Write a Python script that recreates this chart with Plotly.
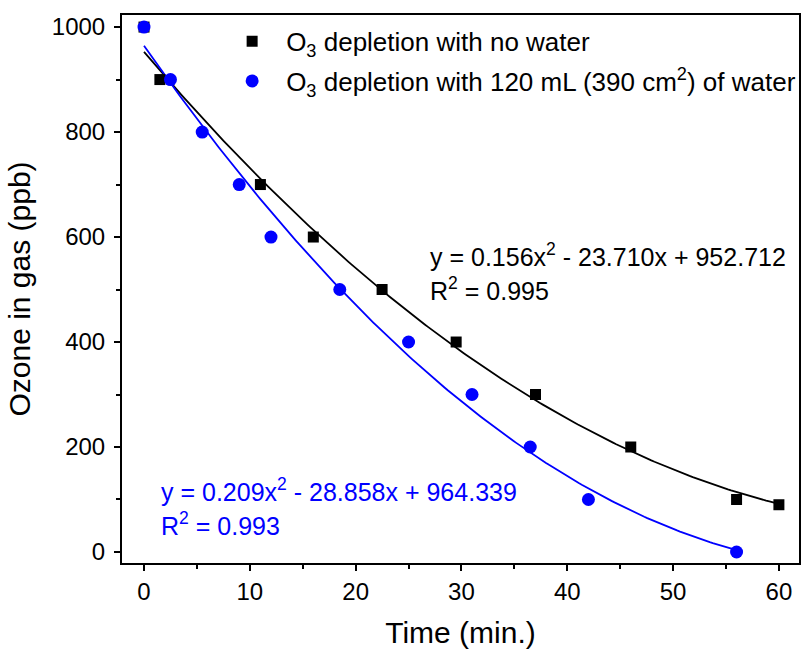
import numpy as np
import plotly.graph_objects as go

# Data: no water (black squares)
time_no_water = [0, 1.5, 11, 16, 22.5, 29.5, 37, 46, 56, 60]
ozone_no_water = [1000, 900, 700, 600, 500, 400, 300, 200, 100, 90]

# Data: with 120 mL water (blue circles)
time_water = [0, 2.5, 5.5, 9, 12, 18.5, 25, 31, 36.5, 42, 56]
ozone_water = [1000, 900, 800, 700, 600, 500, 400, 300, 200, 100, 0]

# Quadratic fit coefficients shown on the chart (a, b, c) for y = a x^2 + b x + c
fit_no_water = [0.156, -23.710, 952.712]
fit_water = [0.209, -28.858, 964.339]
r2_no_water = 0.995
r2_water = 0.993

x_ticks = [0, 10, 20, 30, 40, 50, 60]
y_ticks = [0, 200, 400, 600, 800, 1000]

FONT = "Liberation Sans, Arial, sans-serif"

def poly(coefs, xs):
    a, b, c = coefs
    return [a * x * x + b * x + c for x in xs]

xf1 = np.linspace(0, max(time_no_water), 200)
xf2 = np.linspace(0, max(time_water), 200)

fig = go.Figure()
fig.add_trace(go.Scatter(x=xf1, y=poly(fit_no_water, xf1), mode="lines",
                         line=dict(color="black", width=1.8), showlegend=False, hoverinfo="skip"))
fig.add_trace(go.Scatter(x=xf2, y=poly(fit_water, xf2), mode="lines",
                         line=dict(color="#0000ff", width=1.8), showlegend=False, hoverinfo="skip"))
fig.add_trace(go.Scatter(x=time_no_water, y=ozone_no_water, mode="markers", legendgroup="a",
                         name="O<sub>3</sub> depletion with no water",
                         marker=dict(symbol="square", size=11, color="black")))
fig.add_trace(go.Scatter(x=time_water, y=ozone_water, mode="markers", legendgroup="b",
                         name="O<sub>3</sub> depletion with 120 mL (390 cm<sup>2</sup>) of water",
                         marker=dict(symbol="circle", size=13, color="#0000ff")))

def ann(text, xv, yv, color):
    fig.add_annotation(text=text, x=xv, y=yv, xref="x", yref="y", xanchor="left", yanchor="middle",
                       showarrow=False, font=dict(family=FONT, size=25, color=color))

ann("y = %.3fx<sup>2</sup> - %.3fx + %.3f" % (fit_no_water[0], -fit_no_water[1], fit_no_water[2]), 26.8, 566, "black")
ann("R<sup>2</sup> = %.3f" % r2_no_water, 26.8, 501, "black")
ann("y = %.3fx<sup>2</sup> - %.3fx + %.3f" % (fit_water[0], -fit_water[1], fit_water[2]), 1.4, 119, "#0000ff")
ann("R<sup>2</sup> = %.3f" % r2_water, 1.4, 54, "#0000ff")

axis_common = dict(showline=True, linecolor="black", linewidth=2, mirror=True,
                   ticks="outside", ticklen=6, tickwidth=2, tickcolor="black",
                   showgrid=False, zeroline=False,
                   tickfont=dict(family=FONT, size=24, color="black"))

fig.update_xaxes(range=[-2.08, 61.9], tickvals=x_ticks,
                 minor=dict(ticks="outside", ticklen=4, tickwidth=2, dtick=5, tick0=0, tickcolor="black"),
                 title=dict(text="Time (min.)", font=dict(family=FONT, size=30, color="black"), standoff=18),
                 **axis_common)
fig.update_yaxes(range=[-21, 1023], tickvals=y_ticks, ticklabelstandoff=4,
                 minor=dict(ticks="outside", ticklen=4, tickwidth=2, dtick=100, tick0=0, tickcolor="black"),
                 title=dict(text="Ozone in gas (ppb)", font=dict(family=FONT, size=30, color="black"), standoff=12),
                 **axis_common)

fig.update_layout(
    width=801, height=654,
    margin=dict(l=122, r=2, t=15, b=91, autoexpand=False),
    paper_bgcolor="white", plot_bgcolor="white",
    font=dict(family=FONT, color="black"),
    legend=dict(x=0.142, y=0.995, xanchor="left", yanchor="top", bgcolor="rgba(0,0,0,0)",
                font=dict(family=FONT, size=26, color="black"), tracegroupgap=3, itemwidth=58),
)

fig.write_html("out.html")
